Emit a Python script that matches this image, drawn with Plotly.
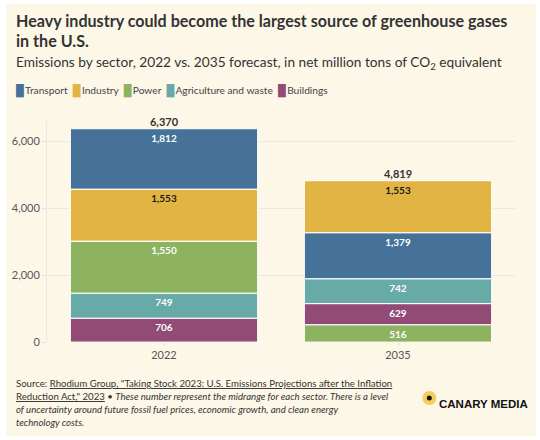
import plotly.graph_objects as go

years = ["2022", "2035"]
sectors = ["Transport", "Industry", "Power", "Agriculture and waste", "Buildings"]
values_2022 = [1812, 1553, 1550, 749, 706]
values_2035 = [1379, 1553, 516, 742, 629]
totals = [6370, 4819]
colors = ["#46729a", "#e2b444", "#8db361", "#67aaa7", "#924b76"]
label_colors = ["white", "#1a1a1a", "white", "white", "white"]
ytick_vals = [0, 2000, 4000, 6000]

FONT = "Lato"
W, H = 540, 440
L, R, T, B = 45, 25, 121, 98
PW, PH = W - L - R, H - T - B


def px(x):
    return (x - L) / PW


def py(y):
    return (H - B - y) / PH


series = [values_2022, values_2035]
# stack each year's segments in ascending order of value
bases = []
for vals in series:
    order = sorted(range(len(vals)), key=lambda i: vals[i])
    b = [0] * len(vals)
    acc = 0
    for i in order:
        b[i] = acc
        acc += vals[i]
    bases.append(b)

fig = go.Figure()
for i, s in enumerate(sectors):
    ys = [series[0][i], series[1][i]]
    fig.add_trace(go.Bar(
        x=years, y=ys, base=[bases[0][i], bases[1][i]], name=s,
        marker=dict(color=colors[i], line=dict(color="rgba(255,255,255,0.85)", width=1.2)),
        width=0.8,
        text=[f"{v:,}" for v in ys], textposition="inside", insidetextanchor="end",
        textangle=0,
        textfont=dict(family=FONT, size=10, color=label_colors[i], weight="bold"),
        showlegend=False, hoverinfo="skip",
    ))

fig.add_trace(go.Scatter(
    x=years, y=totals, mode="text", text=[f"{t:,}" for t in totals],
    textposition="top center", cliponaxis=False,
    textfont=dict(family=FONT, size=11, color="#333333", weight="bold"),
    showlegend=False, hoverinfo="skip",
))

legend_text = "  ".join(
    f"<span style='color:{c};font-size:11px'>█</span>\u2009{s}" for s, c in zip(sectors, colors)
)

title_lines = ["Heavy industry could become the largest source of greenhouse gases", "in the U.S."]
footer_lines = [
    "Source: <u>Rhodium Group, \"Taking Stock 2023: U.S. Emissions Projections after the Inflation</u>",
    "<u>Reduction Act,\" 2023</u> • <i>These number represent the midrange for each sector. There is a level</i>",
    "<i>of uncertainty around future fossil fuel prices, economic growth, and clean energy</i>",
    "<i>technology costs.</i>",
]

annotations = []
for k, line in enumerate(title_lines):
    annotations.append(dict(text=f"<b>{line}</b>", x=px(12), y=py(20 + 21 * k), xanchor="left",
                            yanchor="middle", font=dict(family=FONT, size=16.1, color="#333333")))
annotations.append(dict(
    text="Emissions by sector, 2022 vs. 2035 forecast, in net million tons of CO<sub>2</sub> equivalent",
    x=px(12), y=py(62), xanchor="left", yanchor="middle",
    font=dict(family=FONT, size=13.7, color="#333333")))
annotations.append(dict(text=legend_text, x=px(12), y=py(90), xanchor="left", yanchor="middle",
                        font=dict(family=FONT, size=10.2, color="#444444")))
for k, line in enumerate(footer_lines):
    annotations.append(dict(text=line, x=px(12), y=py(383 + 13.3 * k), xanchor="left", yanchor="middle",
                            font=dict(family=FONT, size=9.6, color="#333333")))
annotations.append(dict(text="<b>CANARY MEDIA</b>", x=px(437), y=py(404), xanchor="left", yanchor="middle",
                        font=dict(family="Liberation Sans", size=11.5, color="#111111")))
for a in annotations:
    a.update(xref="paper", yref="paper", showarrow=False, align="left")

shapes = [
    dict(type="rect", xref="paper", yref="paper", x0=px(4), x1=px(536), y0=py(436), y1=py(4),
         fillcolor="#fdf7e7", line=dict(width=0), layer="below"),
    dict(type="circle", xref="paper", yref="paper", x0=px(422), x1=px(436), y0=py(405), y1=py(391),
         fillcolor="#f2cf5b", line=dict(width=0)),
    dict(type="circle", xref="paper", yref="paper", x0=px(426.5), x1=px(431.5), y0=py(400.5), y1=py(395.5),
         fillcolor="#111111", line=dict(width=0)),
]

fig.update_layout(
    width=W, height=H, margin=dict(l=L, r=R, t=T, b=B),
    paper_bgcolor="white", plot_bgcolor="rgba(0,0,0,0)",
    barmode="overlay", bargap=0.2,
    font=dict(family=FONT, size=11, color="#555555"),
    annotations=annotations, shapes=shapes,
    uniformtext=dict(mode="show", minsize=10),
)
fig.update_xaxes(type="category", showgrid=False, showline=False, ticks="outside",
                 ticklen=3, tickcolor="#dddddd", tickfont=dict(size=11, color="#555555"),
                 range=[-0.5, 1.5], fixedrange=True)
fig.update_yaxes(range=[0, 6600], tickvals=ytick_vals, tickformat=",", showgrid=True,
                 gridcolor="#ece9e0", gridwidth=1, zeroline=False, showline=True,
                 linecolor="#ece9e0", ticks="outside", ticklen=4, tickcolor="#e4e1d8",
                 tickfont=dict(size=11, color="#555555"), fixedrange=True)

fig.write_html("out.html", config={"displayModeBar": False},
               post_script="document.body.style.margin='0';")
